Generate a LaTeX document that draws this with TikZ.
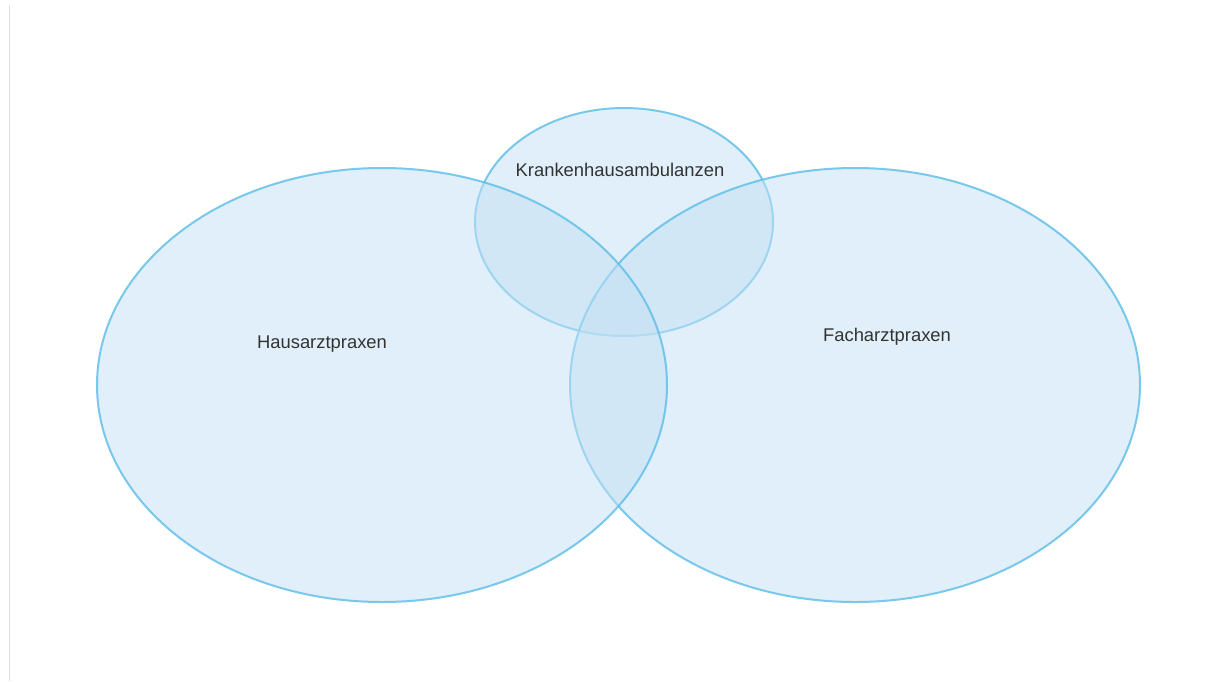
\documentclass[tikz,border=0pt]{standalone}
\usepackage{fontspec}
\setmainfont{Liberation Sans}
\definecolor{vfill}{HTML}{C3E1F5}
\definecolor{vline}{HTML}{5BBDE8}
\definecolor{vtext}{HTML}{333333}
\begin{document}
\begin{tikzpicture}[x=1pt,y=-1pt,
  setshape/.style={draw=vline,draw opacity=0.8,line width=2pt,fill=vfill,fill opacity=0.5},
  setlabel/.style={text=vtext,font=\fontsize{18.4}{22}\selectfont,inner sep=0pt}]
\useasboundingbox (0,0) rectangle (1220,681);
\fill[white] (0,0) rectangle (1220,681);
\draw[black!12,line width=1.5pt] (9.5,5) -- (9.5,681);
\path[setshape] (624,222) ellipse [x radius=149,y radius=114];
\path[setshape] (855,385) ellipse [x radius=285,y radius=217];
\path[setshape] (382,385) ellipse [x radius=285,y radius=217];
\node[setlabel] (haus) at (322,344) {Hausarztpraxen};
\node[setlabel] (fach) at (887,337) {Facharztpraxen};
\node[setlabel] (kh) at (620,170) {Krankenhausambulanzen};
\end{tikzpicture}
\end{document}
